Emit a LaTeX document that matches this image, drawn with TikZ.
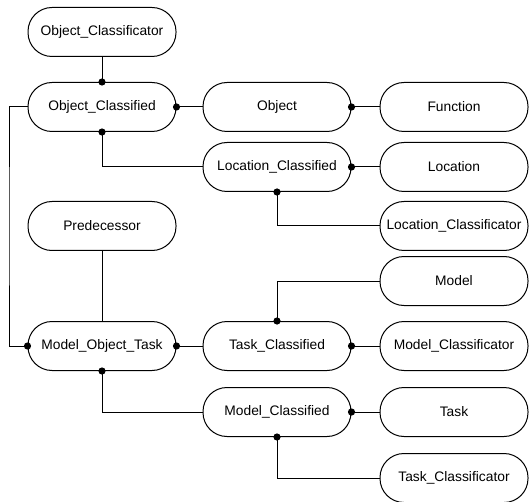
\documentclass[tikz,border=0pt]{standalone}
\usepackage{fontspec}
\setmainfont{Liberation Sans}
\usetikzlibrary{positioning}
\tikzset{
	entity/.style={draw,line width=1pt,rounded corners=24pt,minimum width=148pt,minimum height=49pt,inner sep=0pt,font=\fontsize{13.8}{16}\selectfont},
	link/.style={line width=1pt},
}
\begin{document}
\begin{tikzpicture}[x=1pt,y=-1pt]
	\useasboundingbox (0,0) rectangle (529,502);

		% left column
		\node[entity] (objclassificator) at (102,32) {Object\_Classificator};
		\node[entity] (objclassified) at (102,107) {Object\_Classified};
		\node[entity] (predecessor) at (102,226) {Predecessor};
		\node[entity] (modelobjtask) at (102,346) {Model\_Object\_Task};

		% middle column
		\node[entity] (object) at (277,107) {Object};
		\node[entity] (locclassified) at (277,167) {Location\_Classified};
		\node[entity] (taskclassified) at (277,346) {Task\_Classified};
		\node[entity] (modelclassified) at (277,412) {Model\_Classified};

		% right column
		\node[entity] (function) at (454,107) {Function};
		\node[entity] (location) at (454,167) {Location};
		\node[entity] (locclassificator) at (454,226) {Location\_Classificator};
		\node[entity] (model) at (454,281) {Model};
		\node[entity] (modelclassificator) at (454,346) {Model\_Classificator};
		\node[entity] (task) at (454,412) {Task};
		\node[entity] (taskclassificator) at (454,478) {Task\_Classificator};

		\coordinate (loop) at (9,226);

		\draw[link] (objclassificator.south)--(objclassified.north);
		\draw[link] (objclassified.east)--(object.west);
		\draw[link] (object.east)--(function.west);
		\draw[link] (objclassified.south) |- (locclassified.west);
		\draw[link] (locclassified.east)--(location.west);
		\draw[link] (locclassified.south) |- (locclassificator.west);
		\draw[link] (objclassified.west) -| (loop) |- (modelobjtask.west);
		\draw[link] (predecessor.south)--(modelobjtask.north);
		\draw[link] (modelobjtask.east)--(taskclassified.west);
		\draw[link] (taskclassified.north) |- (model.west);
		\draw[link] (taskclassified.east)--(modelclassificator.west);
		\draw[link] (modelobjtask.south) |- (modelclassified.west);
		\draw[link] (modelclassified.east)--(task.west);
		\draw[link] (modelclassified.south) |- (taskclassificator.west);

		% dots
		\foreach \p in {objclassified.north,objclassified.east,objclassified.south,object.east,
			locclassified.east,locclassified.south,modelobjtask.west,modelobjtask.east,
			modelobjtask.south,taskclassified.north,taskclassified.east,
			modelclassified.east,modelclassified.south}
			\fill (\p) circle [radius=3.6pt];
	\end{tikzpicture}
\end{document}
